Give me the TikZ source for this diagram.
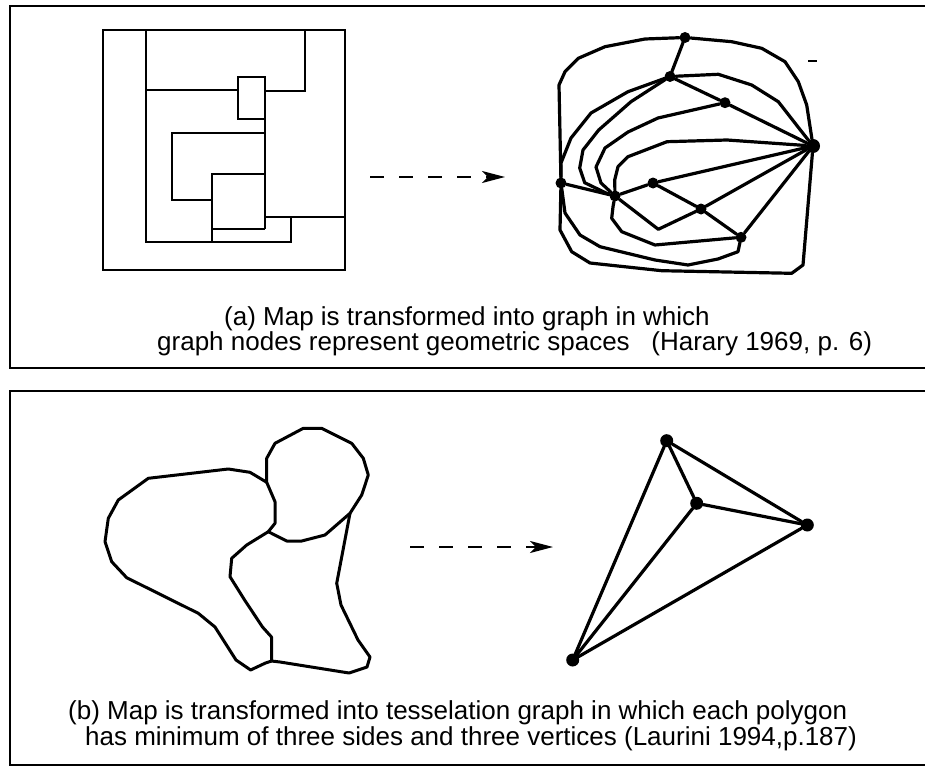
\documentclass[tikz,border=0pt]{standalone}
\usepackage{fontspec}
\setmainfont{Liberation Sans}
\usetikzlibrary{arrows.meta}
\begin{document}
\begin{tikzpicture}[x=1pt,y=-1pt,
  frame/.style={line width=2.3pt},
  wall/.style={line width=2.6pt, line join=miter},
  edge/.style={line width=3.2pt, line join=round, line cap=round},
  blob/.style={line width=3pt, line join=round},
  vtx/.style={circle, fill=black, inner sep=0pt, minimum size=11pt},
  bigvtx/.style={vtx, minimum size=14pt},
  tvtx/.style={vtx, minimum size=13pt},
  arr/.style={line width=2.3pt, dash pattern=on 14pt off 15pt, -{Stealth[length=23pt,width=12pt,inset=6pt]}},
  captext/.style={font=\fontsize{26}{27}\selectfont, anchor=base west, inner sep=0pt}
]
\useasboundingbox (0,0) rectangle (925,770);
% frames
\draw[frame] (925,6) -- (10,6) -- (10,368) -- (925,368);
\draw[frame] (925,391) -- (10,391) -- (10,765) -- (925,765);

% ---------- map (a) ----------
\draw[wall] (103,30) rectangle (345,270);
\draw[wall] (146,30) -- (146,242) -- (291,242) -- (291,217);
\draw[wall] (146,90) -- (238,90);
\draw[wall] (305,30) -- (305,91) -- (265,91);
\draw[wall] (238,77) rectangle (265,119);
\draw[wall] (265,119) -- (265,229);
\draw[wall] (265,133) -- (172,133) -- (172,200) -- (212,200);
\draw[wall] (265,174) -- (212,174) -- (212,242);
\draw[wall] (212,229) -- (265,229);
\draw[wall] (265,217) -- (345,217);

% arrows
\coordinate (a1s) at (370,177);
\coordinate (a1e) at (505,177);
\draw[arr] (a1s) -- (a1e);
\coordinate (a2s) at (410,547);
\coordinate (a2e) at (553,547);
\draw[arr] (a2s) -- (a2e);

% ---------- graph (a) ----------
\node[vtx] (A) at (685,37.5) {};
\node[vtx] (B) at (670,76.5) {};
\node[vtx] (C) at (725,102.7) {};
\node[bigvtx] (D) at (813,146) {};
\node[vtx] (E) at (561,183) {};
\node[vtx] (F) at (615,196) {};
\node[vtx] (G) at (653,183) {};
\node[vtx] (H) at (701,209) {};
\node[vtx] (I) at (741,237.3) {};

\draw[edge] (A) -- (731.7,41.7) -- (761.7,48.3) -- (785,61.7) -- (798.3,81.7) -- (806.7,105) -- (D);
\draw[edge] (A) -- (645,39) -- (605,46.7) -- (578.3,58.3) -- (565,71.7) -- (559,85) -- (E);
\draw[edge] (A) -- (B);
\draw[edge] (B) -- (718.3,74.3) -- (751.7,85) -- (778.3,101.7) -- (801.7,131.7) -- (D);
\draw[edge] (B) -- (C);
\draw[edge] (C) -- (D);
\draw[edge] (B) -- (628,91.7) -- (591,113) -- (571,138) -- (561,163) -- (E);
\draw[edge] (B) -- (631,101.7) -- (598.7,130) -- (583,150) -- (579.7,168) -- (584.7,182.7) -- (606,193) -- (F);
\draw[edge] (C) -- (693,110) -- (658,118) -- (628,132) -- (605,148) -- (596,167) -- (601,183) -- (F);
\draw[edge] (D) -- (727,140) -- (667,141.7) -- (628,156.7) -- (618,166.7) -- (614.7,180) -- (F);
\draw[edge] (F) -- (613,206.7) -- (611.7,218.3) -- (621.7,231.7) -- (655,245) -- (I);
\draw[edge] (E) -- (F);
\draw[edge] (F) -- (G);
\draw[edge] (G) -- (D);
\draw[edge] (G) -- (H);
\draw[edge] (H) -- (I);
\draw[edge] (H) -- (D);
\draw[edge] (I) -- (D);
\draw[edge] (F) -- (658.3,229.3) -- (H);
\draw[edge] (E) -- (565,213) -- (580,235) -- (600,246.7) -- (655,260) -- (688,265) -- (718,259) -- (738,251.7) -- (I);
\draw[edge] (E) -- (560,230) -- (571.7,251.7) -- (590,263) -- (661.7,270.7) -- (791.7,273.3) -- (803,265) -- (D);
\draw[line width=2pt] (808,61) -- (817,61);

% ---------- captions (a) ----------
\node[captext] (capa1) at (224,325) {(a) Map is transformed into graph in which};
\node[captext] (capa2) at (157,350) {graph nodes represent geometric spaces\ \ \ (Harary 1969, p. 6)};

% ---------- map (b) ----------
\coordinate (J1) at (266.7,482.3);
\coordinate (J2) at (268.3,531.7);
\coordinate (J3) at (271.5,661);
\coordinate (J4) at (350,513.3);
\draw[blob] (J1) -- (250,472.3) -- (228.3,469) -- (148.3,478.3) -- (118.3,500) -- (108.3,518.3) -- (105,541.7) -- (111.7,561.7) -- (126.7,577.7) -- (198.3,613.3) -- (215,627) -- (236,660) -- (250.6,670) -- (265.5,663) -- (J3);
\draw[blob] (J1) -- (266.7,458.3) -- (275,443.3) -- (303.3,428.3) -- (321.7,428.3) -- (351.7,443.3) -- (363.3,458.3) -- (368.3,475) -- (361.7,495) -- (J4) -- (325,535) -- (301.7,541) -- (286.7,541) -- (J2) -- (275,523.3) -- (275,501.7) -- cycle;
\draw[blob] (J2) -- (246.7,545) -- (231.7,558.3) -- (230,576.7) -- (244.6,600) -- (262.5,627) -- (271.5,637) -- (J3);
\draw[blob] (J4) -- (336.7,583.3) -- (341,605) -- (358,640) -- (370,657) -- (367,667) -- (349,673) -- (280,662) -- (J3);

% ---------- graph (b) ----------
\node[tvtx] (P) at (666.7,440.7) {};
\node[tvtx] (Q) at (696.7,503.3) {};
\node[tvtx] (R) at (807.3,525) {};
\node[tvtx] (S) at (572.7,660) {};
\draw[edge] (P) -- (Q);
\draw[edge] (P) -- (R);
\draw[edge] (Q) -- (R);
\draw[edge] (P) -- (S);
\draw[edge] (Q) -- (S);
\draw[edge] (R) -- (S);

% ---------- captions (b) ----------
\node[captext] (capb1) at (68,719) {(b) Map is transformed into tesselation graph in which each polygon};
\node[captext] (capb2) at (85,745) {has minimum of three sides and three vertices (Laurini 1994,p.187)};
\end{tikzpicture}
\end{document}
